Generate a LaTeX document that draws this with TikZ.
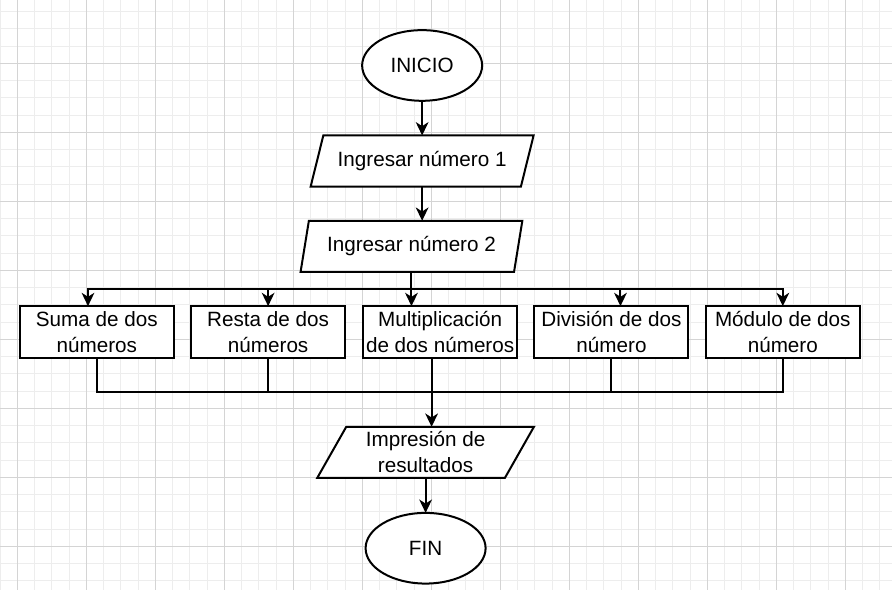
\documentclass[tikz,border=0pt]{standalone}
\usepackage{fontspec}
\setmainfont{Liberation Sans}
\usetikzlibrary{positioning,shapes.geometric,arrows.meta,calc}

\begin{document}
\begin{tikzpicture}[font=\fontsize{15.5}{19.5}\selectfont]
	% definir las formas del diagrama
	\tikzstyle{startstop} = [ellipse, fill=white, line width=1.5pt, minimum width=90pt, minimum height=53pt, inner sep=0pt, outer sep=0pt, draw=black]	% inicio y fin
	\tikzstyle{io} = [trapezium, trapezium stretches body, fill=white, line width=1.5pt, minimum width=167.2pt, minimum height=38.3pt, inner sep=0pt, outer sep=0pt, align=center, draw=black]	% entrada / salida
	\tikzstyle{process} = [rectangle, fill=white, line width=1.5pt, minimum width=115.5pt, minimum height=39pt, inner sep=0pt, outer sep=0pt, align=center, draw=black]	% operaciones
	\tikzstyle{arrow} = [line width=1.5pt, -{Stealth[length=10pt,width=9.5pt,inset=3pt]}]	% flechas
	\tikzstyle{line} = [line width=1.5pt]
	\tikzstyle{minorline} = [line width=0.6pt, black!7]
	\tikzstyle{majorline} = [line width=0.6pt, black!17]
	\useasboundingbox (0,0) rectangle (669pt,-442.5pt);
	% cuadricula de fondo
	\fill[white] (0,0) rectangle (669pt,-442.5pt);
	\foreach \i in {0,...,51} \draw[minorline] (\i*12.9375pt,0) -- ++(0,-442.5pt);
	\foreach \i in {0,...,33} \draw[minorline] (0,-8.66pt-\i*12.9375pt) -- ++(669pt,0);
	\foreach \i in {0,...,12} \draw[majorline] (12.94pt+\i*51.75pt,0) -- ++(0,-442.5pt);
	\foreach \i in {0,...,7} \draw[majorline] (0,-47.5pt-\i*51.75pt) -- ++(669pt,0);

	\node (inicio) [startstop] at (316.6pt,-49.1pt) {INICIO};
	\node (ing1) [io, trapezium left angle=57, trapezium right angle=123, below=26pt of inicio] {Ingresar número 1};
	\node (ing2) [io, trapezium left angle=67, trapezium right angle=113, minimum width=166.3pt, below=25.7pt of ing1, xshift=-8pt] {Ingresar número 2};
	\node (mult) [process, below=25.7pt of ing2, xshift=21.5pt] {Multiplicación\\de dos números};
	\node (resta) [process, left=13.5pt of mult] {Resta de dos\\números};
	\node (suma) [process, left=13pt of resta] {Suma de dos\\números};
	\node (div) [process, right=13pt of mult] {División de dos\\número};
	\node (mod) [process, right=13pt of div] {Módulo de dos\\número};
	\node (impr) [io, trapezium left angle=55, trapezium right angle=125, minimum width=162.5pt, below=51.5pt of mult, xshift=-10.9pt] {Impresión de\\resultados};
	\node (fin) [startstop, below=26.25pt of impr] {FIN};
	\coordinate [below=13pt of ing2.south] (bus);
	\coordinate [below=25.5pt of mult.south, xshift=-6.4pt] (junta);

	% conectar las formas
	\draw [arrow] (inicio) -- (inicio |- ing1.north);
	\draw [arrow] (ing1.south) -- (ing1.south |- ing2.north);
	\draw [arrow] (ing2.south) -- (bus) -| ([xshift=-6.6pt]suma.north);
	\draw [arrow] (ing2.south) -- (bus) -| (resta.north);
	\draw [arrow] (ing2.south) -- (ing2.south |- mult.north);
	\draw [arrow] (ing2.south) -- (bus) -| ([xshift=6.75pt]div.north);
	\draw [arrow] (ing2.south) -- (bus) -| (mod.north);
	\draw [line] (suma.south) |- (junta);
	\draw [line] (resta.south) |- (junta);
	\draw [line] (div.south) |- (junta);
	\draw [line] (mod.south) |- (junta);
	\draw [arrow] (junta |- mult.south) -- (junta) -- (junta |- impr.north);
	\draw [arrow] (impr.south) -- (impr.south |- fin.north);
\end{tikzpicture}
\end{document}
